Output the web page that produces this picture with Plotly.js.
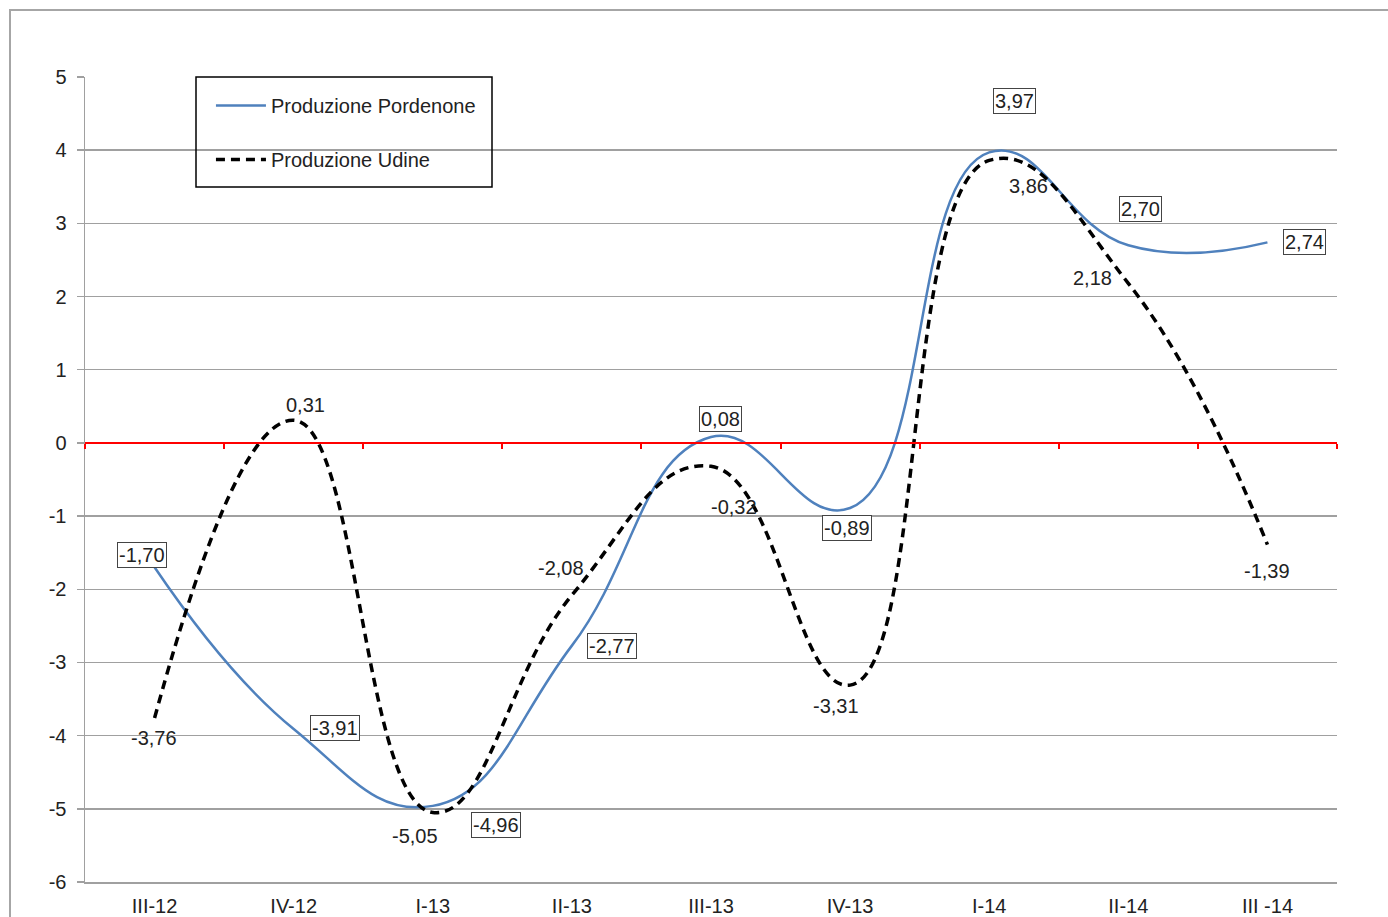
<!DOCTYPE html>
<html><head><meta charset="utf-8">
<script src="https://cdn.plot.ly/plotly-3.0.1.min.js"></script>
<style>html,body{margin:0;padding:0;overflow:hidden;background:#fff}
#frame{position:absolute;left:9px;top:9px;width:1500px;height:1000px;border:2px solid #a6a6a6;pointer-events:none;z-index:5}
#chart{position:absolute;left:0;top:0;width:1388px;height:917px}</style>
</head><body>
<div id="chart"></div><div id="frame"></div>
<script>
const categories = ["III-12","IV-12","I-13","II-13","III-13","IV-13","I-14","II-14","III -14"];
const pordenone = [-1.70,-3.91,-4.96,-2.77,0.08,-0.89,3.97,2.70,2.74];
const udine = [-3.76,0.31,-5.05,-2.08,-0.32,-3.31,3.86,2.18,-1.39];
const yTicks = [-6,-5,-4,-3,-2,-1,0,1,2,3,4,5];

// label offsets in pixels [dx, dy(up)]
const pordOffsets = [[-13,12],[41,1],[63,-19],[40,0],[9,18],[-3,-20],[25,51],[12,36],[37,0]];
const udineOffsets = [[-1,-20],[12,15],[-18,-24],[-11,27],[23,-41],[-14,-21],[39,-26],[-36,5],[0,-26]];

const fmt = v => v.toFixed(2).replace('.', ',');
const FONT = 'Liberation Sans, Arial, sans-serif';
const FS = 20;

const traces = [
  {x: categories, y: pordenone, type:'scatter', mode:'lines', name:'Produzione Pordenone',
   line:{color:'#4f81bd', width:2.5, shape:'spline', smoothing:1.3}, legendgroup:'a'},
  {x: categories, y: udine, type:'scatter', mode:'lines', name:'Produzione Udine',
   line:{color:'#000', width:3.5, shape:'spline', smoothing:1.3, dash:'9px,6px'}, legendgroup:'b'},
  {x: categories, y: categories.map(()=>null), xaxis:'x2', type:'scatter', mode:'lines',
   showlegend:false, hoverinfo:'skip'}
];

const annotations = [];
categories.forEach((c,i)=>{
  annotations.push({x:c, y:pordenone[i], text:fmt(pordenone[i]), showarrow:false,
    xshift:pordOffsets[i][0], yshift:pordOffsets[i][1], font:{family:FONT,size:FS,color:'#222'},
    bordercolor:'#444', borderwidth:1, borderpad:1, bgcolor:'#fff'});
  annotations.push({x:c, y:udine[i], text:fmt(udine[i]), showarrow:false,
    xshift:udineOffsets[i][0], yshift:udineOffsets[i][1], font:{family:FONT,size:FS,color:'#222'}});
});

const layout = {
  width:1388, height:917,
  margin:{l:85, r:51, t:77, b:35},
  paper_bgcolor:'#fff', plot_bgcolor:'#fff',
  font:{family:FONT, size:FS, color:'#222'},
  showlegend:true,
  legend:{x:0.1006, y:0.9887, xanchor:'left', yanchor:'top', borderwidth:0,
    bgcolor:'rgba(0,0,0,0)', font:{family:FONT,size:FS,color:'#222'}, traceorder:'grouped', tracegroupgap:25,
    itemwidth:50},
  shapes:[{type:'rect', xref:'paper', yref:'paper', x0:(196-85)/1252, x1:(492-85)/1252, y0:(882-187)/805, y1:1,
    line:{color:'#000', width:1.5}, fillcolor:'rgba(0,0,0,0)', layer:'above'}],
  xaxis:{type:'category', range:[-0.5,8.5], showgrid:false, showline:true, linecolor:'#a0a0a0', linewidth:1.5,
    ticks:'', ticklabelstandoff:5, tickfont:{family:FONT,size:FS,color:'#222'}, zeroline:false},
  xaxis2:{type:'category', overlaying:'x', anchor:'free', position:6/11, range:[-0.5,8.5],
    showgrid:false, showline:true, linecolor:'#ff0000', linewidth:2.5, ticks:'outside', tickson:'boundaries',
    ticklen:5, tickwidth:2, tickcolor:'#ff0000', showticklabels:false, zeroline:false},
  yaxis:{range:[-6,5], tickvals:yTicks, ticktext:yTicks.map(String), showgrid:true, gridcolor:'#a0a0a0', gridwidth:1.5,
    showline:true, linecolor:'#a0a0a0', linewidth:1.5, ticks:'outside', ticklen:7, tickcolor:'#a0a0a0', tickwidth:1.5,
    ticklabelstandoff:6, zeroline:false, tickfont:{family:FONT,size:FS,color:'#222'}},
  annotations: annotations
};
Plotly.newPlot('chart', traces, layout, {displayModeBar:false, staticPlot:true});
</script>
</body></html>
